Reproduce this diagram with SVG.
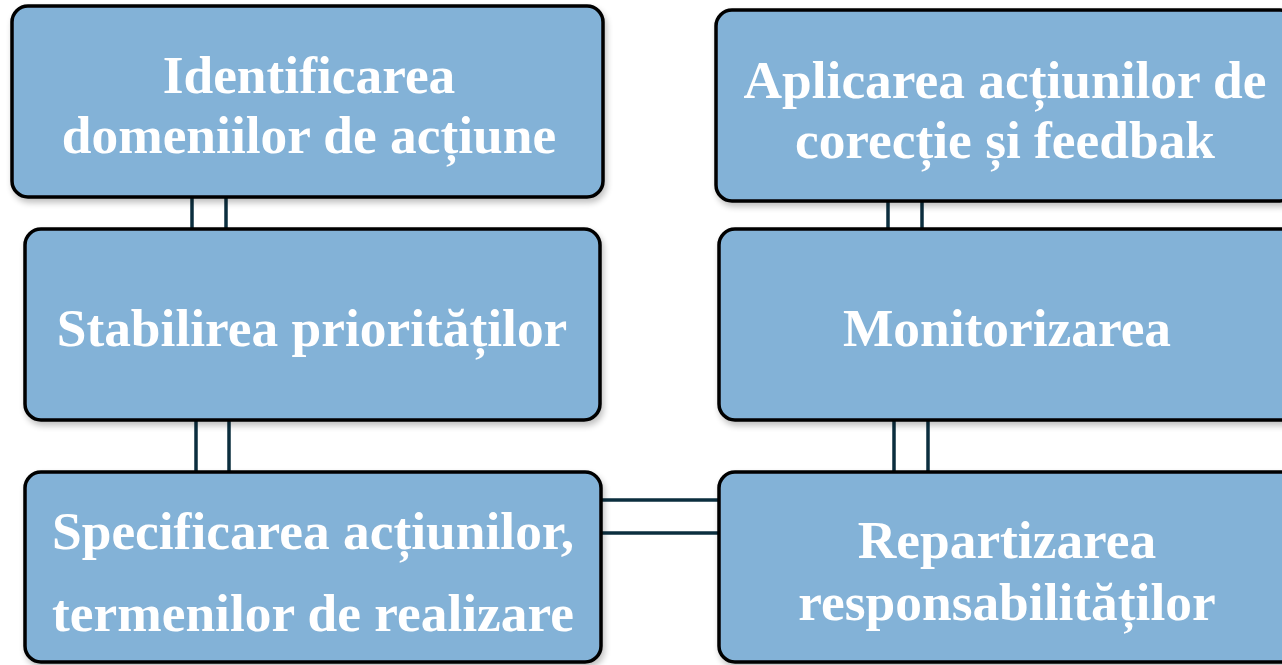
<svg xmlns="http://www.w3.org/2000/svg" width="1282" height="665" viewBox="0 0 1282 665">
<defs>
<filter id="sh" x="-5%" y="-5%" width="110%" height="115%">
<feGaussianBlur in="SourceAlpha" stdDeviation="3"/>
<feOffset dx="2" dy="4" result="b"/>
<feComponentTransfer><feFuncA type="linear" slope="0.25"/></feComponentTransfer>
<feMerge><feMergeNode/><feMergeNode in="SourceGraphic"/></feMerge>
</filter>
</defs>
<style>
.box{fill:#83B2D7;stroke:#000;stroke-width:3.5}
.t{font-family:"Liberation Serif","Times New Roman",serif;font-weight:bold;font-size:53.4px;fill:#fff;text-anchor:middle}
.c{stroke:#0b2e3e;stroke-width:3.5;fill:none}
</style>
<rect width="1282" height="665" fill="#fff"/>
<g id="connectors">
<line class="c" x1="192" y1="197" x2="192" y2="229"/>
<line class="c" x1="226" y1="197" x2="226" y2="229"/>
<line class="c" x1="196" y1="420" x2="196" y2="472"/>
<line class="c" x1="229" y1="420" x2="229" y2="472"/>
<line class="c" x1="888" y1="201" x2="888" y2="229"/>
<line class="c" x1="922" y1="201" x2="922" y2="229"/>
<line class="c" x1="894" y1="420" x2="894" y2="472"/>
<line class="c" x1="928" y1="420" x2="928" y2="472"/>
<line class="c" x1="600" y1="500" x2="720" y2="500"/>
<line class="c" x1="600" y1="533" x2="720" y2="533"/>
</g>
<g id="n1" filter="url(#sh)">
<rect class="box" x="12" y="6" width="591" height="191" rx="16"/>
<text class="t" x="309" y="93">Identificarea</text>
<text class="t" x="309" y="153">domeniilor de acțiune</text>
</g>
<g id="n2" filter="url(#sh)">
<rect class="box" x="25" y="229" width="575" height="191" rx="16"/>
<text class="t" x="312" y="346">Stabilirea priorităților</text>
</g>
<g id="n3" filter="url(#sh)">
<rect class="box" x="25" y="472" width="576" height="190" rx="16"/>
<text class="t" x="313" y="549">Specificarea acțiunilor,</text>
<text class="t" x="313" y="631">termenilor de realizare</text>
</g>
<g id="n4" filter="url(#sh)">
<rect class="box" x="716" y="10" width="580" height="191" rx="16"/>
<text class="t" x="1005" y="98">Aplicarea acțiunilor de</text>
<text class="t" x="1005" y="158">corecție și feedbak</text>
</g>
<g id="n5" filter="url(#sh)">
<rect class="box" x="719" y="229" width="580" height="191" rx="16"/>
<text class="t" x="1007" y="346">Monitorizarea</text>
</g>
<g id="n6" filter="url(#sh)">
<rect class="box" x="719" y="472" width="580" height="190" rx="16"/>
<text class="t" x="1007" y="558">Repartizarea</text>
<text class="t" x="1007" y="620">responsabilităților</text>
</g>
</svg>
